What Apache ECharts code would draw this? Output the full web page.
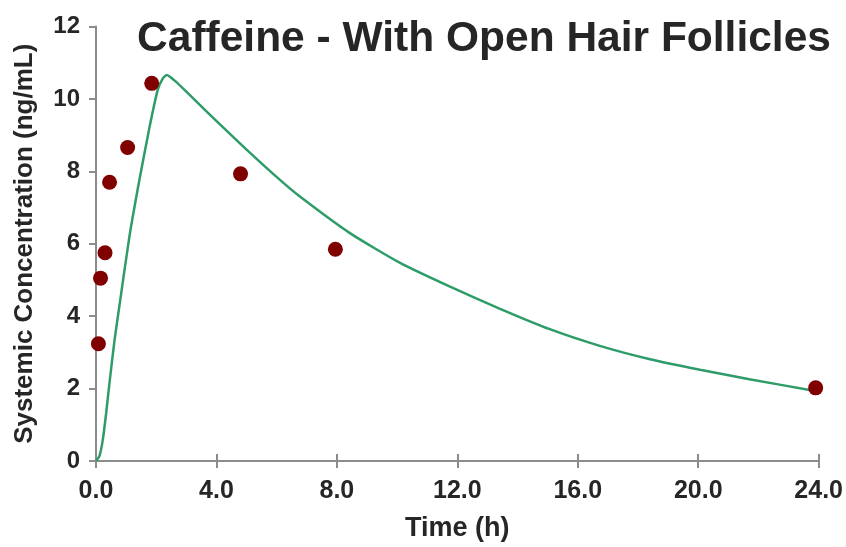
<!DOCTYPE html>
<html><head><meta charset="utf-8">
<script src="https://cdn.jsdelivr.net/npm/echarts@6/dist/echarts.min.js"></script>
<style>html,body{margin:0;padding:0;background:#fff}#c{width:846px;height:547px}</style>
</head><body><div id="c"></div>
<script>
const obsTime = [0.08, 0.15, 0.3, 0.45, 1.05, 1.85, 4.8, 7.95, 23.9];
const obsConc = [3.24, 5.05, 5.75, 7.70, 8.66, 10.43, 7.93, 5.85, 2.02];
const fitTime = [0, 0.12, 0.23, 0.34, 0.45, 0.61, 0.78, 1.11, 1.45, 1.78, 2.05, 2.22, 2.35, 2.66, 3.0, 3.44, 4.1, 5.0, 6.1, 6.76, 8.42, 10.1, 11.74, 13.4, 15.07, 16.73, 18.4, 20.06, 21.7, 23.7, 24.0];
const fitConc = [0, 0.15, 0.61, 1.34, 2.17, 3.30, 4.30, 6.20, 7.80, 9.23, 10.25, 10.57, 10.66, 10.47, 10.20, 9.84, 9.31, 8.60, 7.77, 7.31, 6.30, 5.47, 4.82, 4.21, 3.64, 3.18, 2.81, 2.52, 2.26, 1.96, 1.92];
const xTicks = [0, 4, 8, 12, 16, 20, 24];
const yTicks = [0, 2, 4, 6, 8, 10, 12];

const chart = echarts.init(document.getElementById('c'));
const font = 'Liberation Sans, Arial, sans-serif';
const axisCol = '#8c8c8c';
const txt = '#262626';
chart.setOption({
  animation: false,
  title: {
    text: 'Caffeine - With Open Hair Follicles',
    left: 479, top: 13, textAlign: 'center',
    textStyle: {fontFamily: font, fontSize: 42.5, fontWeight: 'bold', color: txt}
  },
  grid: {left: 96, right: 27, top: 26.5, bottom: 85},
  xAxis: [{
    type: 'value', min: xTicks[0], max: xTicks[xTicks.length-1], interval: 4,
    name: 'Time (h)', nameLocation: 'middle', nameGap: 54,
    nameTextStyle: {fontFamily: font, fontSize: 27, fontWeight: 'bold', color: txt},
    axisLine: {lineStyle: {color: axisCol, width: 2}},
    axisTick: {show: true, length: 7, lineStyle: {color: axisCol, width: 2}},
    axisLabel: {fontFamily: font, fontSize: 25, fontWeight: 'bold', color: txt, margin: 18,
      formatter: v => v.toFixed(1)},
    splitLine: {show: false}
  }, {
    type: 'value', min: xTicks[0], max: xTicks[xTicks.length-1], interval: 4, position: 'bottom',
    axisLine: {show: false},
    axisTick: {show: true, inside: true, length: 7, lineStyle: {color: axisCol, width: 2}},
    axisLabel: {show: false}, splitLine: {show: false}
  }],
  yAxis: {
    type: 'value', min: yTicks[0], max: yTicks[yTicks.length-1], interval: 2,
    name: 'Systemic Concentration (ng/mL)', nameLocation: 'middle', nameGap: 58,
    nameTextStyle: {fontFamily: font, fontSize: 26, fontWeight: 'bold', color: txt},
    axisLine: {show: true, lineStyle: {color: axisCol, width: 2}},
    axisTick: {show: true, length: 7, lineStyle: {color: axisCol, width: 2}},
    axisLabel: {fontFamily: font, fontSize: 24, fontWeight: 'bold', color: txt, margin: 16},
    splitLine: {show: false}
  },
  series: [{
    type: 'line', xAxisIndex: 0, data: fitTime.map((t, i) => [t, fitConc[i]]),
    showSymbol: false, smooth: 0.2, lineStyle: {color: '#2e9c69', width: 2.5}, z: 2
  }, {
    type: 'scatter', xAxisIndex: 0, data: obsTime.map((t, i) => [t, obsConc[i]]),
    symbolSize: 15, itemStyle: {color: '#800000', opacity: 1}, z: 3
  }]
});
</script></body></html>
